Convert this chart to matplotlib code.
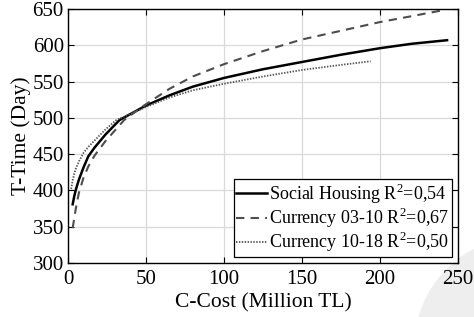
import matplotlib
matplotlib.use("Agg")
import matplotlib.pyplot as plt
from matplotlib.patches import Circle

# values
social_x = [3, 4, 5, 7, 10, 13, 17, 24, 33, 50, 65, 80, 100, 125, 150, 175, 200, 220, 243]
social_y = [381, 392, 401, 415, 432, 447, 459, 477, 497, 517, 531, 543, 555, 567, 577, 587, 596, 602, 607]

cur0310_x = [3, 4, 5, 7, 10, 13, 17, 24, 36, 48, 65, 80, 100, 125, 150, 175, 200, 220, 242]
cur0310_y = [348, 362, 375, 397, 418, 433, 448, 468, 497, 516, 540, 557, 574, 592, 608, 620, 632, 640, 649]

cur1018_x = [2, 3, 4, 5, 7, 10, 13, 18, 24, 31, 50, 65, 80, 100, 125, 150, 175, 194]
cur1018_y = [402, 414, 423, 430, 440, 452, 460, 471, 484, 497, 515, 528, 538, 547, 557, 566, 573, 578]

labels = [r"Social Housing R$^2$=0,54",
          r"Currency 03-10 R$^2$=0,67",
          r"Currency 10-18 R$^2$=0,50"]

plt.rcParams['font.family'] = ['Liberation Serif', 'DejaVu Serif']
plt.rcParams['mathtext.fontset'] = 'custom'
plt.rcParams['mathtext.rm'] = 'Liberation Serif'

fig = plt.figure(figsize=(4.74, 3.17), dpi=100)
# faint round watermark in the lower right corner (display coords, origin bottom left)
fig.patches.append(Circle((525, -30), 110, transform=None, color='#eeeeee', zorder=-1))
ax = fig.add_axes([0.1435, 0.1703, 0.8227, 0.8013])

ax.plot(social_x, social_y, color='black', lw=1.8, label=labels[0])
ax.plot(cur0310_x, cur0310_y, color='#4d4d4d', lw=1.5, ls=(0, (4, 3)), label=labels[1])
ax.plot(cur1018_x, cur1018_y, color='#555555', lw=1.3, ls=(0, (0.8, 0.8)), label=labels[2])

ax.set_xlim(0, 250)
ax.set_ylim(300, 650)
ax.set_xticks([0, 50, 100, 150, 200, 250])
ax.set_yticks([300, 350, 400, 450, 500, 550, 600, 650])
ax.grid(True, color='#d9d9d9', lw=0.9)
ax.tick_params(direction='in', top=True, right=True, labelsize=15, length=4)
ax.tick_params(axis='x', pad=5)
ax.tick_params(axis='y', pad=3)
for s in ax.spines.values():
    s.set_linewidth(1.0)

ax.set_xlabel('C-Cost (Million TL)', fontsize=15.5, labelpad=3)
ax.set_ylabel('T-Time (Day)', fontsize=15.5, labelpad=1)

leg = ax.legend(loc='lower right', fontsize=13, frameon=True, fancybox=False,
                edgecolor='black', framealpha=1, handlelength=1.7, handletextpad=0.1,
                borderpad=0.15, labelspacing=0.0, borderaxespad=0.35)
leg.get_frame().set_linewidth(0.9)

fig.savefig('out.png', dpi=100)
